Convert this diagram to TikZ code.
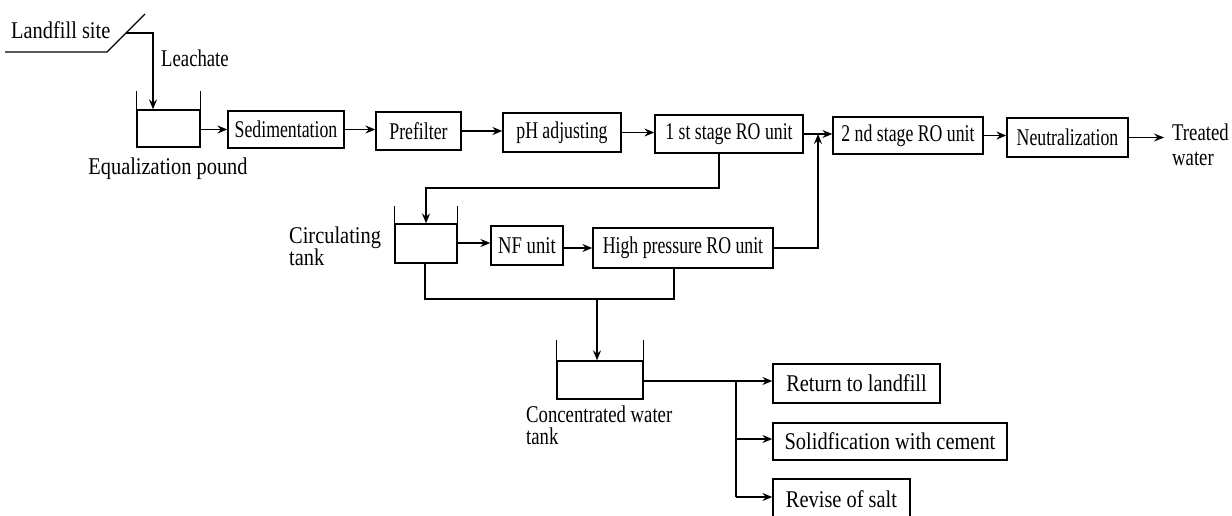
\documentclass[tikz,border=0pt]{standalone}
\usepackage{fontspec}
\setmainfont[FakeStretch=0.74]{Liberation Serif}
\newfontfamily\midserif[FakeStretch=0.78]{Liberation Serif}
\newfontfamily\wideserif[FakeStretch=0.85]{Liberation Serif}
\usetikzlibrary{arrows.meta}
\begin{document}
\begin{tikzpicture}[x=1pt,y=-1pt,
  every node/.style={font=\fontsize{24}{19}\selectfont},
  mid/.style={font=\fontsize{24}{19}\midserif},
  wide/.style={font=\fontsize{24}{19}\wideserif},
  line/.style={line width=1.3pt},
  arr/.style={line, -{Stealth[length=10pt,width=8pt,inset=3.5pt]}},
  box/.style={draw, line width=1.3pt, inner sep=0pt, anchor=center},
  tank/.style={draw, line width=1.3pt, inner sep=0pt, anchor=center},
  lbl/.style={inner sep=0pt, anchor=base west}]
\clip (0,0) rectangle (1232,516);
\useasboundingbox (0,0) rectangle (1232,516);
% landfill
\node[lbl, wide] (site) at (11,39) {Landfill site};
\coordinate (g1) at (5,52);
\coordinate (g2) at (107,52);
\coordinate (g3) at (145,14);
\draw[line] (g1) -- (g2) -- (g3);
\coordinate (lch) at (126,33);
\coordinate (lchd) at (153,33);
\node[lbl, mid] (leach) at (161,67) {Leachate};
% equalization tank
\node[tank, minimum width=63pt, minimum height=37pt] (eq) at (168.5,128.5) {};
\draw[line] (eq.north west) -- ++(0,-18);
\draw[line] (eq.north east) -- ++(0,-18);
\node[lbl, wide, anchor=base] (eqlbl) at (168,175) {Equalization pound};
\draw[arr] (lch) -- (lchd) -- (lchd |- eq.north);
% main line boxes
\node[box, minimum width=116pt, minimum height=37pt] (sed) at (286,129.5) {Sedimentation};
\node[box, minimum width=85pt, minimum height=38pt] (pre) at (418.5,131) {Prefilter};
\node[box, minimum width=118pt, minimum height=39pt] (ph) at (562,132.5) {pH adjusting};
\node[box, minimum width=148pt, minimum height=38pt] (ro1) at (729,134) {1 st stage RO unit};
\node[box, minimum width=150pt, minimum height=37pt] (ro2) at (908,135.5) {2 nd stage RO unit};
\node[box, minimum width=121pt, minimum height=39pt] (neu) at (1067.5,137.5) {Neutralization};
\coordinate (tw) at (1164,137.5);
\node[lbl, mid] (twlbl1) at (1172,141) {Treated};
\node[lbl, mid] (twlbl2) at (1172,165) {water};
\draw[arr] (eq.east |- sed.west) -- (sed.west);
\draw[arr] (sed.east) -- (sed.east -| pre.west);
\draw[arr] (pre.east) -- (pre.east -| ph.west);
\draw[arr] (ph.east) -- (ph.east -| ro1.west);
\draw[arr] (ro1.east) -- (ro1.east -| ro2.west);
\draw[arr] (neu.east) -- (tw);
\draw[arr] (ro2.east) -- (ro2.east -| neu.west);
% circulating tank
\node[tank, minimum width=62pt, minimum height=39pt] (ct) at (426,243.5) {};
\draw[line] (ct.north west) -- ++(0,-17);
\draw[line] (ct.north east) -- ++(0,-17);
\node[lbl, wide] (ctlbl1) at (289,243) {Circulating};
\node[lbl, wide] (ctlbl2) at (289,265) {tank};
\coordinate (r1a) at (719,188);
\draw[arr] (ro1.south -| r1a) -- (r1a) -- (r1a -| ct.north) -- (ct.north);
\node[box, mid, minimum width=72pt, minimum height=39pt] (nf) at (527,245.5) {NF unit};
\node[box, minimum width=180pt, minimum height=40pt] (hp) at (683,248) {High pressure RO unit};
\coordinate (ctout) at (457,243);
\draw[arr] (ctout) -- (ctout -| nf.west);
\draw[arr] (nf.east |- hp.west) -- (hp.west);
\coordinate (hpj) at (818,248);
\draw[arr] (hp.east |- hpj) -- (hpj) -- (hpj |- ro1.east);
% concentrated tank
\node[tank, minimum width=86pt, minimum height=38pt] (cw) at (600,380) {};
\draw[line] (cw.north west) -- ++(0,-20);
\draw[line] (cw.north east) -- ++(0,-20);
\node[lbl, mid] (cwlbl1) at (526,422) {Concentrated water};
\node[lbl, mid] (cwlbl2) at (526,444) {tank};
\coordinate (j1) at (425,299);
\coordinate (j2) at (674,299);
\coordinate (jc) at (597,299);
\draw[line] (ct.south -| j1) -- (j1) -- (j2) -- (j2 |- hp.south);
\draw[arr] (jc) -- (jc |- cw.north);
% outputs
\node[box, wide, minimum width=167pt, minimum height=39pt] (ret) at (856.5,383.5) {Return to landfill};
\node[box, wide, minimum width=234pt, minimum height=37pt] (sol) at (890,441.5) {Solidfication with cement};
\node[box, wide, minimum width=137pt, minimum height=40pt] (rev) at (841.5,499) {Revise of salt};
\coordinate (b0) at (736,381);
\coordinate (b1) at (736,439);
\coordinate (b2) at (736,497);
\draw[arr] (cw.east |- b0) -- (b0 -| ret.west);
\draw[line] (b0) -- (b2);
\draw[arr] (b1) -- (b1 -| sol.west);
\draw[arr] (b2) -- (b2 -| rev.west);
\end{tikzpicture}
\end{document}
